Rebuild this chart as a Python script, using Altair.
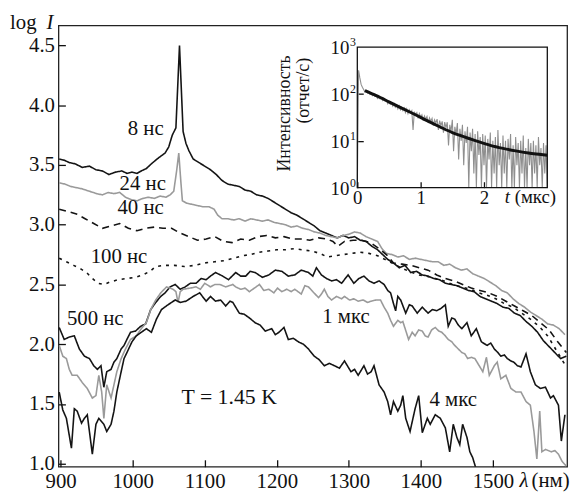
import altair as alt
import pandas as pd

FONT = "Liberation Serif"

# ---------------- main panel: (wavelength nm, log I) ----------------
s8 = [(898,3.55),(905,3.54),(912,3.52),(920,3.51),(930,3.48),(940,3.49),(949,3.46),(958,3.45),(967,3.42),(976,3.44),
      (985,3.45),(992,3.43),(999,3.44),(1006,3.43),(1012,3.45),(1019,3.47),(1026,3.51),(1036,3.56),(1045,3.60),(1050,3.65),
      (1055,3.75),(1060,3.81),(1065,4.50),(1070,3.78),(1074,3.68),(1078,3.62),(1084,3.55),(1092,3.52),(1100,3.49),(1108,3.46),
      (1116,3.42),(1124,3.37),(1132,3.34),(1140,3.33),(1148,3.32),(1156,3.29),(1164,3.28),(1172,3.25),(1180,3.24),(1188,3.22),
      (1196,3.19),(1204,3.16),(1212,3.13),(1220,3.10),(1228,3.08),(1236,3.05),(1244,3.02),(1252,2.99),(1260,2.95),(1268,2.93),
      (1276,2.91),(1284,2.89),(1292,2.91),(1300,2.89),(1308,2.90),(1316,2.87),(1324,2.86),(1332,2.82),(1340,2.79),(1347,2.75),
      (1354,2.71),(1362,2.68),(1370,2.64),(1378,2.66),(1386,2.60),(1394,2.61),(1402,2.58),(1410,2.57),(1418,2.55),(1426,2.54),
      (1434,2.51),(1442,2.50),(1450,2.49),(1458,2.47),(1466,2.45),(1474,2.44),(1482,2.40),(1490,2.38),(1498,2.36),(1506,2.34),
      (1514,2.31),(1522,2.30),(1530,2.26),(1538,2.24),(1546,2.19),(1554,2.15),(1562,2.10),(1570,2.03),(1578,1.98),(1586,1.93),
      (1594,1.88),(1602,1.90)]
s24 = [(898,3.35),(906,3.34),(914,3.32),(922,3.31),(930,3.30),(940,3.28),(950,3.26),(958,3.25),(966,3.27),(974,3.26),
       (982,3.27),(990,3.23),(998,3.21),(1006,3.20),(1014,3.22),(1022,3.23),(1030,3.22),(1038,3.24),(1046,3.23),(1052,3.25),
       (1057,3.28),(1061,3.45),(1064,3.60),(1067,3.35),(1069,3.20),(1075,3.18),(1083,3.17),(1090,3.16),(1098,3.15),(1106,3.15),
       (1113,3.13),(1118,3.08),(1124,3.05),(1132,3.05),(1140,3.04),(1148,3.05),(1156,3.03),(1164,3.05),(1172,3.04),(1180,3.03),
       (1188,3.04),(1196,3.02),(1204,3.01),(1212,3.00),(1220,2.98),(1228,2.99),(1236,2.97),(1244,2.96),(1252,2.94),(1260,2.93),
       (1268,2.91),(1276,2.90),(1284,2.89),(1292,2.91),(1300,2.92),(1308,2.94),(1316,2.93),(1324,2.90),(1332,2.88),(1340,2.86),
       (1346,2.80),(1352,2.76),(1360,2.75),(1368,2.73),(1376,2.74),(1384,2.71),(1392,2.72),(1400,2.71),(1408,2.70),(1416,2.69),
       (1424,2.69),(1432,2.66),(1440,2.67),(1448,2.64),(1456,2.62),(1464,2.63),(1472,2.59),(1480,2.57),(1488,2.55),(1496,2.52),
       (1504,2.49),(1512,2.45),(1520,2.43),(1528,2.38),(1536,2.34),(1544,2.31),(1552,2.27),(1560,2.24),(1568,2.21),(1576,2.17),
       (1584,2.16),(1592,2.13),(1600,2.08)]
s40 = [(898,3.13),(910,3.11),(922,3.09),(934,3.05),(946,3.01),(958,2.97),(970,2.99),(982,3.01),(994,2.97),(1006,2.95),
       (1018,2.97),(1030,2.98),(1042,2.97),(1054,2.97),(1066,2.93),(1078,2.90),(1090,2.87),(1102,2.88),(1114,2.90),(1126,2.86),
       (1138,2.85),(1150,2.88),(1162,2.87),(1174,2.90),(1186,2.91),(1198,2.89),(1210,2.90),(1222,2.88),(1234,2.88),(1246,2.87),
       (1258,2.89),(1270,2.88),(1278,2.86),(1285,2.82),(1294,2.86),(1306,2.87),(1318,2.87),(1330,2.85),(1342,2.80),(1354,2.74),
       (1362,2.68),(1374,2.67),(1386,2.66),(1398,2.64),(1410,2.62),(1422,2.58),(1434,2.55),(1446,2.53),(1458,2.50),(1470,2.47),
       (1482,2.45),(1494,2.43),(1506,2.40),(1518,2.36),(1530,2.32),(1542,2.28),(1554,2.24),(1566,2.18),(1578,2.12),(1590,2.02),
       (1602,1.93)]
s100 = [(898,2.72),(908,2.69),(918,2.66),(928,2.63),(936,2.60),(944,2.55),(952,2.51),(960,2.50),(968,2.52),(980,2.54),
        (992,2.55),(1004,2.56),(1014,2.58),(1024,2.61),(1032,2.65),(1044,2.66),(1058,2.66),(1072,2.65),(1086,2.66),(1100,2.68),
        (1114,2.69),(1128,2.70),(1140,2.72),(1152,2.74),(1164,2.75),(1176,2.77),(1188,2.78),(1200,2.79),(1212,2.79),(1224,2.80),
        (1236,2.79),(1248,2.78),(1260,2.76),(1270,2.73),(1280,2.74),(1292,2.75),(1304,2.76),(1316,2.77),(1328,2.76),(1340,2.74),
        (1350,2.71),(1360,2.68),(1372,2.64),(1384,2.61),(1396,2.58),(1408,2.57),(1420,2.55),(1432,2.53),(1444,2.50),(1456,2.48),
        (1468,2.46),(1480,2.43),(1492,2.41),(1504,2.38),(1516,2.34),(1528,2.31),(1540,2.26),(1552,2.21),(1564,2.15),(1576,2.07),
        (1588,1.95),(1600,1.83)]
s500 = [(898,2.14),(905,2.04),(912,2.06),(919,2.07),(926,1.96),(933,1.90),(940,1.88),(946,1.82),(951,1.79),(956,1.82),
        (960,1.64),(964,1.77),(970,1.79),(974,1.85),(978,1.88),(984,1.96),(988,1.99),(992,2.04),(997,2.10),(1004,2.11),
        (1011,2.15),(1018,2.17),(1025,2.29),(1032,2.35),(1039,2.40),(1045,2.43),(1052,2.48),(1059,2.50),(1066,2.46),(1073,2.48),
        (1080,2.51),(1088,2.51),(1095,2.55),(1102,2.54),(1108,2.57),(1115,2.60),(1125,2.57),(1133,2.54),(1143,2.60),(1150,2.57),
        (1157,2.57),(1163,2.61),(1170,2.60),(1180,2.56),(1189,2.58),(1198,2.62),(1207,2.61),(1216,2.57),(1225,2.58),(1234,2.62),
        (1244,2.60),(1250,2.57),(1255,2.64),(1262,2.58),(1269,2.55),(1276,2.53),(1283,2.54),(1290,2.51),(1299,2.58),(1307,2.51),
        (1314,2.55),(1321,2.57),(1328,2.53),(1335,2.51),(1342,2.53),(1349,2.50),(1354,2.45),(1358,2.43),(1362,2.34),(1365,2.28),
        (1368,2.40),(1372,2.37),(1379,2.26),(1384,2.33),(1388,2.32),(1395,2.26),(1402,2.31),(1410,2.26),(1416,2.29),(1422,2.28),
        (1428,2.30),(1434,2.33),(1438,2.15),(1443,2.22),(1447,2.21),(1452,2.16),(1457,2.13),(1464,2.18),(1470,2.07),(1477,2.13),
        (1484,2.02),(1492,1.99),(1497,2.01),(1502,1.96),(1507,1.93),(1511,1.90),(1516,1.91),(1520,1.88),(1525,1.86),(1529,1.85),
        (1534,1.82),(1539,1.81),(1546,1.92),(1552,1.77),(1559,1.66),(1566,1.63),(1573,1.64),(1580,1.55),(1584,1.57),(1591,1.49),
        (1595,1.19),(1600,1.41)]
s1mks = [(898,1.99),(903,1.90),(908,1.88),(912,1.79),(916,1.74),(923,1.74),(930,1.68),(937,1.63),(944,1.55),(949,1.57),
         (953,1.74),(957,1.60),(960,1.38),(964,1.66),(970,1.55),(974,1.66),(978,1.77),(984,1.88),(990,1.96),(997,2.04),
         (1005,2.07),(1012,2.13),(1019,2.18),(1025,2.29),(1032,2.37),(1039,2.43),(1047,2.48),(1056,2.46),(1060,2.44),(1063,2.35),
         (1066,2.44),(1070,2.46),(1080,2.47),(1088,2.48),(1094,2.46),(1100,2.51),(1108,2.48),(1114,2.50),(1121,2.50),(1129,2.48),
         (1139,2.50),(1143,2.48),(1150,2.46),(1156,2.47),(1162,2.44),(1169,2.47),(1176,2.50),(1182,2.45),(1189,2.46),(1196,2.43),
         (1201,2.47),(1207,2.44),(1214,2.46),(1220,2.44),(1225,2.46),(1234,2.42),(1239,2.49),(1244,2.48),(1250,2.44),(1258,2.39),
         (1262,2.42),(1266,2.46),(1271,2.40),(1276,2.37),(1283,2.40),(1290,2.38),(1294,2.40),(1301,2.37),(1307,2.38),(1313,2.36),
         (1320,2.37),(1326,2.35),(1331,2.36),(1338,2.37),(1344,2.37),(1349,2.31),(1354,2.26),(1358,2.20),(1362,2.15),(1368,2.20),
         (1372,2.18),(1375,2.19),(1383,2.04),(1388,2.10),(1392,2.07),(1397,2.12),(1402,2.11),(1406,2.07),(1410,2.06),(1415,2.12),
         (1420,2.14),(1425,2.11),(1429,2.10),(1434,2.07),(1438,2.04),(1443,2.02),(1447,1.99),(1452,1.96),(1457,1.93),(1461,1.92),
         (1465,1.88),(1470,1.89),(1475,1.88),(1481,1.82),(1486,1.77),(1491,1.89),(1495,1.74),(1502,1.82),(1506,1.85),(1511,1.71),
         (1518,1.74),(1525,1.63),(1532,1.60),(1539,1.60),(1546,1.52),(1552,1.49),(1557,1.27),(1561,1.04),(1565,1.44),(1568,1.10),
         (1573,1.12),(1581,1.10),(1586,1.11),(1591,1.08),(1596,1.02),(1602,0.98)]
s4mks = [(898,1.60),(903,1.45),(908,1.38),(915,1.13),(919,1.46),(923,1.44),(929,1.34),(933,1.38),(937,1.41),(944,1.08),
         (949,1.33),(953,1.38),(960,1.33),(964,1.27),(970,1.33),(974,1.44),(978,1.60),(984,1.77),(988,1.88),(992,1.93),
         (999,2.02),(1005,2.07),(1012,2.10),(1019,2.13),(1026,2.10),(1033,2.21),(1040,2.29),(1049,2.33),(1059,2.37),(1066,2.35),
         (1074,2.36),(1084,2.40),(1093,2.43),(1102,2.36),(1108,2.40),(1115,2.36),(1122,2.37),(1129,2.32),(1135,2.36),(1139,2.35),
         (1144,2.30),(1148,2.26),(1155,2.25),(1162,2.22),(1170,2.18),(1177,2.16),(1184,2.11),(1193,2.13),(1198,2.08),(1203,2.10),
         (1210,2.14),(1216,2.04),(1223,2.05),(1230,2.02),(1237,2.00),(1244,1.96),(1252,1.90),(1259,1.87),(1266,1.82),(1273,1.84),
         (1280,1.82),(1287,1.80),(1294,1.86),(1303,1.77),(1308,1.79),(1313,1.74),(1321,1.82),(1326,1.75),(1331,1.77),(1335,1.82),
         (1342,1.66),(1349,1.60),(1354,1.52),(1358,1.41),(1362,1.52),(1368,1.44),(1372,1.49),(1375,1.57),(1379,1.38),(1385,1.27),
         (1392,1.46),(1397,1.57),(1402,1.26),(1409,1.38),(1413,1.33),(1420,1.41),(1427,1.38),(1434,1.30),(1440,1.10),(1445,1.33),
         (1450,1.22),(1454,1.16),(1458,1.33),(1464,1.22),(1468,1.10),(1472,1.05),(1477,0.95)]

series_names = ["8 нс", "24 нс", "40 нс", "100 нс", "500 нс", "1 мкс", "4 мкс"]
series_data = [s8, s24, s40, s100, s500, s1mks, s4mks]
series_colors = ["#141414", "#9a9a9a", "#141414", "#141414", "#141414", "#9a9a9a", "#141414"]
series_dash = [[1, 0], [1, 0], [7, 5], [3, 5], [1, 0], [1, 0], [1, 0]]

label_text = ["8 нс", "24 нс", "40 нс", "100 нс", "500 нс", "1 мкс", "4 мкс"]
label_lam = [1018, 1014, 1011, 981, 948, 1296, 1445]
label_val = [3.80, 3.34, 3.14, 2.73, 2.21, 2.23, 1.53]

x_ticks = [900, 1000, 1100, 1200, 1300, 1400, 1500]
y_ticks = [1.0, 1.5, 2.0, 2.5, 3.0, 3.5, 4.0, 4.5]

# ---------------- inset: decay kinetics ----------------
decay_counts = [1, 320, 220, 160, 140, 125, 110, 118, 105, 112,
                98, 104, 92, 95, 88, 91, 80, 86, 78, 82,
                72, 76, 70, 74, 62, 68, 60, 64, 55, 62,
                52, 58, 48, 56, 46, 52, 44, 50, 40, 48,
                38, 46, 40, 44, 17, 42, 36, 40, 30, 38,
                32, 36, 27, 34, 29, 33, 24, 31, 26, 30,
                21, 28, 24, 29, 17, 27, 21, 26, 15, 25,
                19, 25, 8, 22, 16, 28, 6, 20, 14, 24,
                4, 18, 10, 22, 3, 16, 9, 20, 1, 15,
                6, 18, 2, 14, 1, 16, 5, 12, 1, 14,
                3, 13, 1, 11, 4, 15, 1, 10, 2, 12,
                1, 17, 3, 9, 1, 13, 2, 10, 1, 11,
                4, 14, 1, 8, 1, 12, 3, 9, 1, 10,
                2, 13, 1, 7, 1, 11, 3, 9, 1, 10,
                2, 8, 1, 12, 3, 7, 1, 9, 2, 8,
                1]
decay_step = 0.02
fit_t = [0.12, 0.3, 0.5, 0.7, 0.9, 1.1, 1.3, 1.5, 1.7, 1.9, 2.1, 2.3, 2.5, 2.7, 2.9, 3.0]
fit_c = [118, 92, 68, 50, 37, 27, 20, 15, 12, 9.7, 8.0, 6.9, 6.1, 5.5, 5.1, 4.9]
inset_x_ticks = [0, 1, 2]
inset_y_decades = [1, 10, 100, 1000]
inset_y_exps = ["0", "1", "2", "3"]

# ---------------- build tables ----------------
rows = []
for name, pts in zip(series_names, series_data):
    for lam, v in pts:
        rows.append({"s": name, "lam": lam, "v": v})
df_main = pd.DataFrame(rows)
df_lab = pd.DataFrame({"t": label_text, "lam": label_lam, "v": label_val})
df_T = pd.DataFrame({"t": ["T = 1.45 K"], "lam": [1134], "v": [1.56]})

df_decay = pd.DataFrame({"t": [round(i * decay_step, 2) for i in range(len(decay_counts))], "c": decay_counts})
df_fit = pd.DataFrame({"t": fit_t, "c": fit_c})
df_frame = pd.DataFrame({"t0": [0], "t1": [3], "c0": [1], "c1": [1000]})
df_dec = pd.DataFrame({"c": inset_y_decades, "e": inset_y_exps})

W, H = 514, 446
xs = alt.Scale(domain=[897, 1603], nice=False, zero=False)
ys = alt.Scale(domain=[0.975, 4.668], nice=False, zero=False)

IX0, IX1, IYT, IYB = 302, 494, 22, 164
txs = alt.Scale(domain=[0, 3], range=[IX0, IX1], nice=False, zero=False)
tys = alt.Scale(type="log", domain=[1, 1000], range=[IYB, IYT], nice=False)

x_axis = alt.Axis(values=x_ticks, title=None, grid=False, domain=False, labelFont=FONT,
                  labelFontSize=21, labelColor="#111", tickColor="#111", tickSize={"expr": "-7"},
                  tickWidth=1.3, labelPadding=11, labelFlush=False, format="d")
y_axis = alt.Axis(values=y_ticks, title=None, grid=False, domain=False, labelFont=FONT,
                  labelFontSize=21, labelColor="#111", tickColor="#111", tickSize={"expr": "-7"},
                  tickWidth=1.3, labelPadding=11, format=".1f")
X = lambda f: alt.X(f, scale=xs, axis=x_axis)
Y = lambda f: alt.Y(f, scale=ys, axis=y_axis)

lines = alt.Chart(df_main).mark_line(strokeWidth=1.6, clip=True).encode(
    x=X("lam:Q"), y=Y("v:Q"),
    color=alt.Color("s:N", scale=alt.Scale(domain=series_names, range=series_colors), legend=None),
    strokeDash=alt.StrokeDash("s:N", scale=alt.Scale(domain=series_names, range=series_dash), legend=None),
    detail="s:N",
)
labels = alt.Chart(df_lab).mark_text(font=FONT, fontSize=21, color="#111").encode(
    x=X("lam:Q"), y=Y("v:Q"), text="t:N")
tlabel = alt.Chart(df_T).mark_text(font=FONT, fontSize=22, color="#111").encode(
    x=X("lam:Q"), y=Y("v:Q"), text="t:N")

def txt(s, x, y, size=21, italic=False, align="left", angle=0, baseline="alphabetic"):
    return alt.Chart(pd.DataFrame({"a": [0]})).mark_text(
        font=FONT, fontSize=size, fontStyle="italic" if italic else "normal", align=align,
        baseline=baseline, angle=angle, color="#111").encode(
        x=alt.value(x), y=alt.value(y), text=alt.value(s))

main = alt.layer(
    lines, labels, tlabel,
    txt("log", -49, 4), txt("I", -12, 4, italic=True),
    txt("λ", 466, 466, italic=True), txt("(нм)", 478, 466),
)

ix_axis = alt.Axis(orient="bottom", offset=-(H - IYB), values=inset_x_ticks, title=None, grid=False,
                   domain=False, labelFont=FONT, labelFontSize=19, labelColor="#111", tickColor="#111",
                   tickSize={"expr": "-6"}, tickWidth=1.3, labelPadding=7, labelFlush=False)
iy_axis = alt.Axis(orient="left", offset=-IX0, values=[10, 100], title=None, grid=False,
                   domain=False, labels=False, tickColor="#111", tickSize={"expr": "-6"}, tickWidth=1.3)
TX = lambda f: alt.X(f, scale=txs, axis=ix_axis)
TY = lambda f: alt.Y(f, scale=tys, axis=iy_axis)

frame = alt.Chart(df_frame).mark_rect(fillOpacity=0, stroke="#111", strokeWidth=1.3).encode(
    x=TX("t0:Q"), x2="t1:Q", y=TY("c0:Q"), y2="c1:Q")
gray = alt.Chart(df_decay).mark_line(color="#8f8f8f", strokeWidth=1.1).encode(
    x=TX("t:Q"), y=TY("c:Q"))
fit = alt.Chart(df_fit).mark_line(color="#111", strokeWidth=3, interpolate="monotone").encode(
    x=TX("t:Q"), y=TY("c:Q"))
ten = alt.Chart(df_dec).mark_text(font=FONT, fontSize=19, align="right", baseline="middle",
                                  dy=1, color="#111").encode(
    x=alt.value(IX0 - 8), y=TY("c:Q"), text=alt.value("10"))
expo = alt.Chart(df_dec).mark_text(font=FONT, fontSize=12, align="left", baseline="middle",
                                   dy=-5, color="#111").encode(
    x=alt.value(IX0 - 7.5), y=TY("c:Q"), text="e:N")

inset = alt.layer(
    gray, fit, frame, ten, expo,
    txt("t", 451, 179, size=19, italic=True), txt("(мкс)", 461, 179, size=19),
    txt("Интенсивность", 229, 89, size=18, align="center", angle=270, baseline="middle"),
    txt("(отчет/с)", 248, 66, size=18, align="center", angle=270, baseline="middle"),
)

chart = alt.layer(main, inset).resolve_scale(x="independent", y="independent").properties(
    width=W, height=H,
    autosize=alt.AutoSizeParams(type="none"),
    padding={"left": 51, "top": 15, "right": 10, "bottom": 25},
    background="white",
).configure_view(stroke="#222", strokeWidth=1.3)

chart.save("out.html", embed_options={"renderer": "svg", "actions": False})
